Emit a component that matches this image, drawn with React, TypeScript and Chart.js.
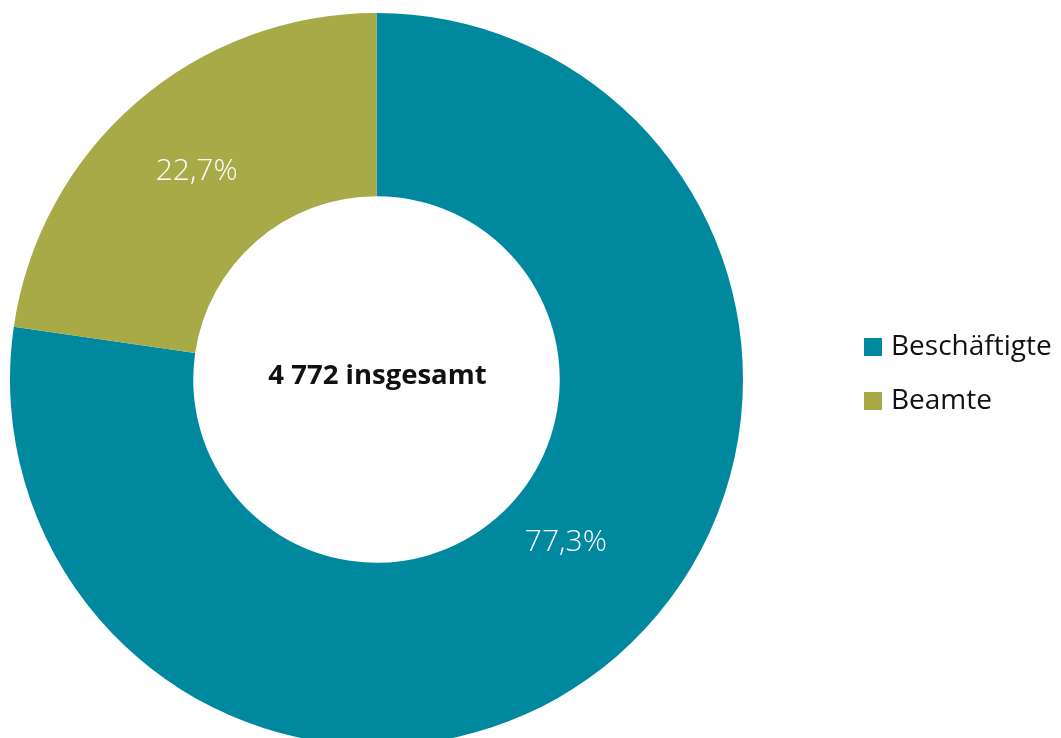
import React, { useEffect, useRef } from "react";
import { Chart, registerables } from "chart.js";

Chart.register(...registerables);

const categories = ["Beschäftigte", "Beamte"];
const shares = [77.3, 22.7];
const shareLabels = ["77,3%", "22,7%"];
const colors = ["#00889F", "#A7AA47"];
const centerText = "4 772 insgesamt";
// label nudges along the arc (fraction of arc) and radially (fraction of ring)
const labelAngleShift = [-0.03, 0];
const labelRadiusShift = [-0.135, 0];

const FONT = "'Open Sans', 'Noto Sans', sans-serif";

const overlayPlugin = {
  id: "overlay",
  afterDatasetsDraw(chart: any) {
    const ctx = chart.ctx;
    const meta = chart.getDatasetMeta(0);
    ctx.save();
    meta.data.forEach((arc: any, i: number) => {
      const p = arc.getProps(["startAngle", "endAngle", "innerRadius", "outerRadius", "x", "y"], true);
      const span = p.endAngle - p.startAngle;
      const a = p.startAngle + span / 2 + span * labelAngleShift[i];
      const ring = p.outerRadius - p.innerRadius;
      const r = (p.innerRadius + p.outerRadius) / 2 + ring * labelRadiusShift[i];
      ctx.fillStyle = "#ffffff";
      ctx.font = `300 30px ${FONT}`;
      ctx.textAlign = "center";
      ctx.textBaseline = "middle";
      ctx.fillText(shareLabels[i], p.x + Math.cos(a) * r, p.y + Math.sin(a) * r);
    });
    const c = meta.data[0];
    ctx.fillStyle = "#111111";
    ctx.font = `bold 27.5px ${FONT}`;
    ctx.textAlign = "center";
    ctx.textBaseline = "middle";
    ctx.fillText(centerText, c.x + 1, c.y - 3);
    const lx = 864;
    const ly0 = 347;
    const gap = 54;
    categories.forEach((name, i) => {
      const y = ly0 + i * gap;
      ctx.fillStyle = colors[i];
      ctx.fillRect(lx, y - 9, 18, 18);
      ctx.fillStyle = "#111111";
      ctx.font = `28px ${FONT}`;
      ctx.textAlign = "left";
      ctx.textBaseline = "middle";
      ctx.fillText(name, lx + 27, y);
    });
    ctx.restore();
  },
};

export default function App() {
  const ref = useRef<HTMLCanvasElement | null>(null);
  useEffect(() => {
    if (!ref.current) return;
    const chart = new Chart(ref.current, {
      type: "doughnut",
      data: {
        labels: categories,
        datasets: [
          {
            data: shares,
            backgroundColor: colors,
            borderWidth: 0,
          },
        ],
      },
      options: {
        animation: false,
        responsive: false,
        cutout: "50%",
        layout: { padding: { top: 13, bottom: 14, left: 10, right: 318 } },
        plugins: {
          legend: { display: false },
          tooltip: { enabled: false },
        },
      },
      plugins: [overlayPlugin],
    });
    return () => chart.destroy();
  }, []);
  return (
    <div style={{ position: "fixed", left: 0, top: 0, width: 1061, height: 738, overflow: "hidden", background: "#fff" }}>
      <canvas ref={ref} width={1061} height={760} style={{ display: "block", width: 1061, height: 760 }} />
    </div>
  );
}
